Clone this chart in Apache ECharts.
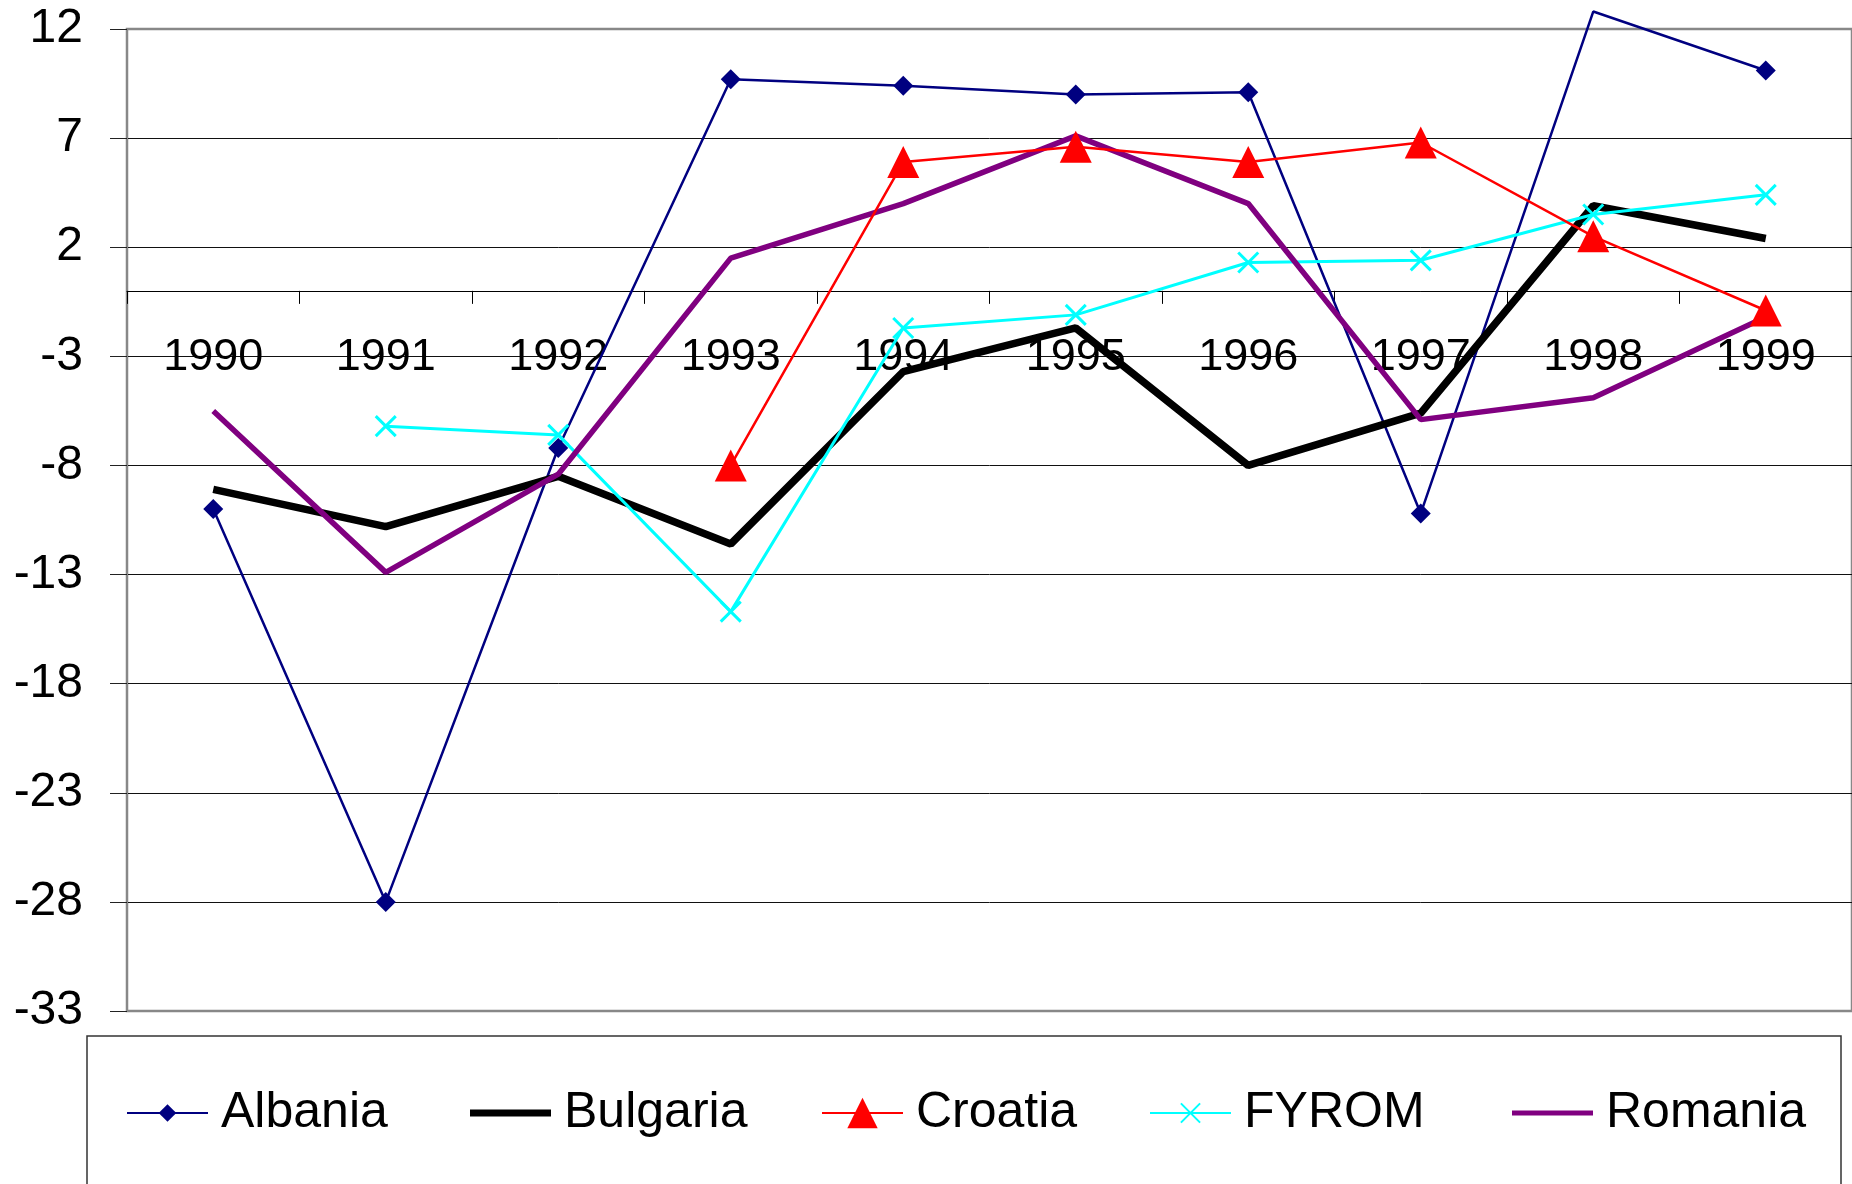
<!DOCTYPE html>
<html><head><meta charset="utf-8">
<script src="https://cdn.jsdelivr.net/npm/echarts@6/dist/echarts.min.js"></script>
<style>html,body{margin:0;padding:0;background:#fff}#c{width:1852px;height:1184px}</style>
</head><body><div id="c"></div>
<script>
const years = ['1990','1991','1992','1993','1994','1995','1996','1997','1998','1999'];
const albania  = [-10.0, -28.0, -7.2, 9.7, 9.4, 9.0, 9.1, -10.2, 12.8, 10.1];
const bulgaria = [-9.1, -10.8, -8.5, -11.6, -3.7, -1.7, -8.0, -5.6, 3.9, 2.4];
const croatia  = [null, null, null, -8.0, 5.9, 6.6, 5.9, 6.8, 2.5, -0.9];
const fyrom    = [null, -6.2, -6.6, -14.7, -1.7, -1.1, 1.3, 1.4, 3.5, 4.4];
const romania  = [-5.5, -12.9, -8.4, 1.5, 4.0, 7.1, 4.0, -5.9, -4.9, -1.2];
const yMin = -33, yMax = 12, yStep = 5;

const FONT = '"Liberation Sans", Arial, sans-serif';
const GRID_TOP = 29, GRID_H = 982;
// category axis sits on value 0 (drawn from the top edge, shifted down by the scale)
const zeroOffset = -GRID_H * (yMax - 0) / (yMax - yMin);

const chart = echarts.init(document.getElementById('c'), null, {renderer: 'canvas'});

const hideAbove = arr => arr.map(v => (v !== null && v > yMax) ? {value: v, symbol: 'none'} : v);

function legendAt(name, left, extra) {
  return Object.assign({
    data: [name], left: left, top: 1088, padding: 0,
    itemWidth: 81, itemHeight: 22,
    textStyle: {fontFamily: FONT, fontSize: 50, color: '#000', lineHeight: 50, padding: [0, 0, 0, 8]}
  }, extra || {});
}

chart.setOption({
  animation: false,
  backgroundColor: '#fff',
  grid: {left: 127, top: GRID_TOP, width: 1730, height: GRID_H, show: true, borderColor: '#888', borderWidth: 2.5, containLabel: false},
  xAxis: {
    type: 'category', data: years, boundaryGap: true,
    position: 'top', offset: zeroOffset,
    axisLine: {onZero: false, lineStyle: {color: '#000', width: 1}},
    axisTick: {show: true, inside: true, length: 13, interval: 0, lineStyle: {color: '#000', width: 1}},
    axisLabel: {inside: true, interval: 0, margin: 44, fontFamily: FONT, fontSize: 45, color: '#000'},
    splitLine: {show: false}
  },
  yAxis: {
    type: 'value', min: yMin, max: yMax, interval: yStep,
    axisLine: {show: true, lineStyle: {color: '#888', width: 2}},
    axisTick: {show: true, length: 17, lineStyle: {color: '#222', width: 1}},
    axisLabel: {margin: 44, fontFamily: FONT, fontSize: 48, color: '#000'},
    splitLine: {show: true, showMinLine: false, showMaxLine: false, lineStyle: {color: '#111', width: 1}}
  },
  legend: [
    legendAt('Albania', 126),
    legendAt('Bulgaria', 470, {icon: 'rect', itemHeight: 7}),
    legendAt('Croatia', 821, {itemHeight: 38}),
    legendAt('FYROM', 1149, {itemHeight: 24}),
    legendAt('Romania', 1512, {icon: 'rect', itemHeight: 5})
  ],
  graphic: [{
    type: 'rect', silent: true, z: -1,
    shape: {x: 87, y: 1036, width: 1754, height: 220},
    style: {fill: 'none', stroke: '#333', lineWidth: 1.5}
  }],
  series: [
    {name: 'Albania', type: 'line', data: hideAbove(albania), clip: false, z: 2,
     symbol: 'diamond', symbolSize: 20, showSymbol: true,
     lineStyle: {color: '#000080', width: 2.5}, itemStyle: {color: '#000080'}},
    {name: 'Bulgaria', type: 'line', data: bulgaria, z: 2, symbol: 'none',
     lineStyle: {color: '#000', width: 7.5}, itemStyle: {color: '#000'}},
    {name: 'Croatia', type: 'line', data: croatia, z: 4,
     symbol: 'triangle', symbolSize: 32, showSymbol: true,
     lineStyle: {color: '#FF0000', width: 2.5}, itemStyle: {color: '#FF0000'}},
    {name: 'FYROM', type: 'line', data: fyrom, z: 3,
     symbol: 'path://M0,0L10,10M10,0L0,10', symbolSize: 20, showSymbol: true,
     lineStyle: {color: '#00FFFF', width: 3},
     itemStyle: {color: 'rgba(0,0,0,0)', borderColor: '#00FFFF', borderWidth: 3}},
    {name: 'Romania', type: 'line', data: romania, z: 3, symbol: 'none',
     lineStyle: {color: '#800080', width: 5.5}, itemStyle: {color: '#800080'}}
  ]
});
</script></body></html>
